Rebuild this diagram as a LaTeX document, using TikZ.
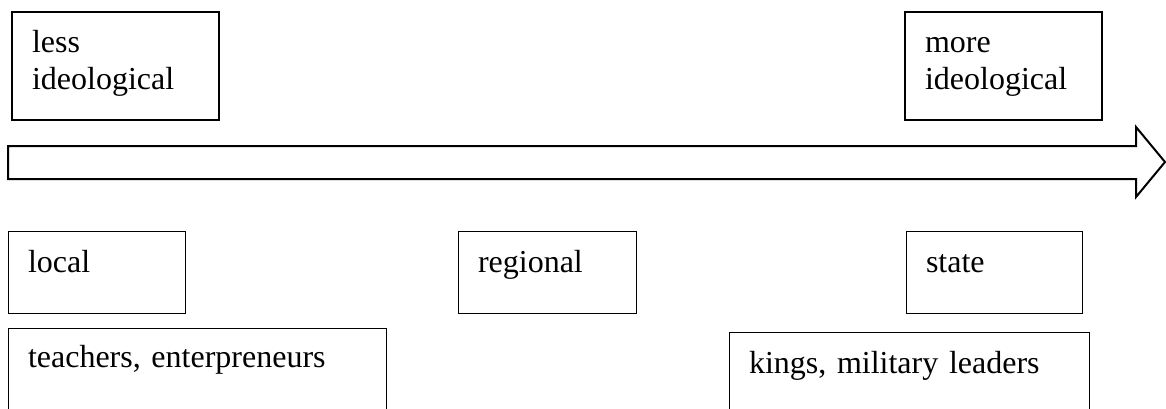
\documentclass[tikz,border=0pt]{standalone}
\usepackage{fontspec}
\setmainfont{Liberation Serif}
\usepackage{tikz}

\begin{document}
\begin{tikzpicture}[x=1pt,y=-1pt,
    box/.style={draw=black,rectangle,anchor=north west,outer sep=0pt,
                inner xsep=20pt,inner ysep=0pt,align=left,
                font=\fontsize{32}{37}\selectfont,text height=41pt},
    thickbox/.style={box,line width=2pt},
    thinbox/.style={box,line width=1pt}]
\clip (0,0) rectangle (1166,409);

\begin{scope}[every node/.style={thickbox,text depth=67pt}]
    \node (L) at (12,12) [text width=167pt] {less\\ideological};
    \node (M) at (905,12) [text width=157pt] {more\\ideological};
\end{scope}

% the scale arrow
\draw[line width=2pt,line join=miter] (8,146) -- (1136,146) -- (1136,127) -- (1165,162)
    -- (1136,197) -- (1136,179) -- (8,179) -- cycle;

\begin{scope}[every node/.style={thinbox,text depth=41pt}]
    \node (l) at (8,231) [text width=137pt] {local};
    \node (r) at (458,231) [text width=138pt] {regional};
    \node (s) at (906,231) [text width=136pt] {state};
\end{scope}

\begin{scope}[every node/.style={thinbox,text depth=70pt}]
    \node (t) at (8,328) [text width=338pt,text height=39pt] {teachers, enterpreneurs};
    \node (k) at (729,332) [text width=320pt] {kings, military leaders};
\end{scope}
\end{tikzpicture}
\end{document}
